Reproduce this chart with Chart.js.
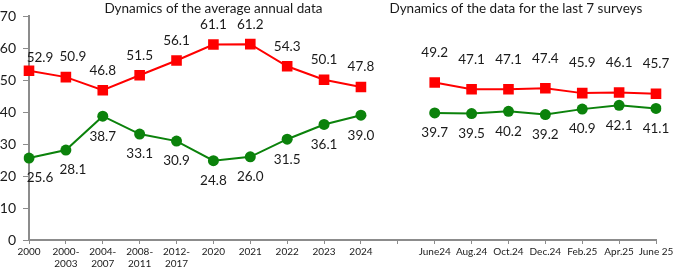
<!DOCTYPE html>
<html>
<head>
<meta charset="utf-8">
<script src="https://cdn.jsdelivr.net/npm/chart.js@4.4.1/dist/chart.umd.min.js"></script>
<style>
html,body{margin:0;padding:0;background:#fff;}
#wrap{width:674px;height:272px;position:relative;}
</style>
</head>
<body>
<div id="wrap"><canvas id="c" width="674" height="272"></canvas></div>
<script>
const categories = ["2000", ["2000-","2003"], ["2004-","2007"], ["2008-","2011"], ["2012-","2017"], "2020", "2021", "2022", "2023", "2024", "", "June24", "Aug.24", "Oct.24", "Dec.24", "Feb.25", "Apr.25", "June 25"];
const redValues = [52.9, 50.9, 46.8, 51.5, 56.1, 61.1, 61.2, 54.3, 50.1, 47.8, null, 49.2, 47.1, 47.1, 47.4, 45.9, 46.1, 45.7];
const greenValues = [25.6, 28.1, 38.7, 33.1, 30.9, 24.8, 26.0, 31.5, 36.1, 39.0, null, 39.7, 39.5, 40.2, 39.2, 40.9, 42.1, 41.1];
const yTicks = [0, 10, 20, 30, 40, 50, 60, 70];
const panelTitles = ["Dynamics of the average annual data", "Dynamics of the data for the last 7 surveys"];

const FONT = "Lato, 'Liberation Sans', sans-serif";
const RED = "#ff0000";
const GREEN = "#0b820b";

const labelPlugin = {
  id: 'valueLabels',
  afterDatasetsDraw(chart) {
    const ctx = chart.ctx;
    ctx.save();
    ctx.font = "13.5px " + FONT;
    ctx.fillStyle = "#1a1a1a";
    ctx.textAlign = "center";
    ctx.textBaseline = "middle";
    chart.data.datasets.forEach((ds, di) => {
      const meta = chart.getDatasetMeta(di);
      meta.data.forEach((pt, i) => {
        const v = ds.data[i];
        if (v === null || v === undefined) return;
        let dx = 0;
        if (i === 0) dx = 11;
        if (i === 1) dx = 7;
        let dy;
        if (di === 0) {
          dy = i > 10 ? -30 : -20;
          if (i === 0) dy = -13;
        } else dy = 20;
        ctx.fillText(v.toFixed(1), pt.x + dx, pt.y + dy);
      });
    });
    ctx.restore();
  }
};

const titlePlugin = {
  id: 'panelTitles',
  afterDraw(chart) {
    const ctx = chart.ctx;
    const xs = chart.scales.x;
    ctx.save();
    ctx.font = "13.5px " + FONT;
    ctx.fillStyle = "#1a1a1a";
    ctx.textAlign = "center";
    ctx.textBaseline = "middle";
    ctx.fillText(panelTitles[0], xs.getPixelForValue(5), 9);
    ctx.fillText(panelTitles[1], xs.getPixelForValue(13.2), 9);
    ctx.restore();
  }
};

new Chart(document.getElementById('c'), {
  type: 'line',
  data: {
    labels: categories,
    datasets: [
      {
        data: redValues,
        borderColor: RED,
        backgroundColor: RED,
        borderWidth: 2,
        pointStyle: 'rect',
        pointRadius: 7.5,
        pointHoverRadius: 7.5,
        pointBorderWidth: 0,
        spanGaps: false,
        tension: 0
      },
      {
        data: greenValues,
        borderColor: GREEN,
        backgroundColor: GREEN,
        borderWidth: 2,
        pointStyle: 'circle',
        pointRadius: 5.5,
        pointHoverRadius: 5.5,
        pointBorderWidth: 0,
        spanGaps: false,
        tension: 0
      }
    ]
  },
  options: {
    responsive: false,
    animation: false,
    devicePixelRatio: 1,
    layout: { padding: { top: 16, right: 18, left: 0, bottom: 0 } },
    plugins: { legend: { display: false }, tooltip: { enabled: false }, title: { display: false } },
    scales: {
      x: {
        offset: false,
        grid: { display: true, drawOnChartArea: false, drawTicks: true, tickLength: 4, color: "#8c8c8c", lineWidth: 1 },
        border: { display: true, color: "#8c8c8c", width: 2 },
        ticks: { font: { family: FONT, size: 10 }, color: "#1a1a1a", maxRotation: 0, minRotation: 0, autoSkip: false, padding: 2 },
        afterFit(scale) { scale.height = 32; scale.paddingLeft = 0; scale.paddingRight = 0; }
      },
      y: {
        min: 0, max: 70,
        afterBuildTicks(scale) { scale.ticks = yTicks.map(v => ({ value: v })); },
        grid: { display: true, drawOnChartArea: false, drawTicks: true, tickLength: 6, color: "#8c8c8c", lineWidth: 1 },
        border: { display: true, color: "#8c8c8c", width: 2 },
        ticks: { font: { family: FONT, size: 14 }, color: "#1a1a1a", padding: 7 },
        afterFit(scale) { scale.width = 29; }
      }
    }
  },
  plugins: [labelPlugin, titlePlugin]
});
</script>
</body>
</html>
